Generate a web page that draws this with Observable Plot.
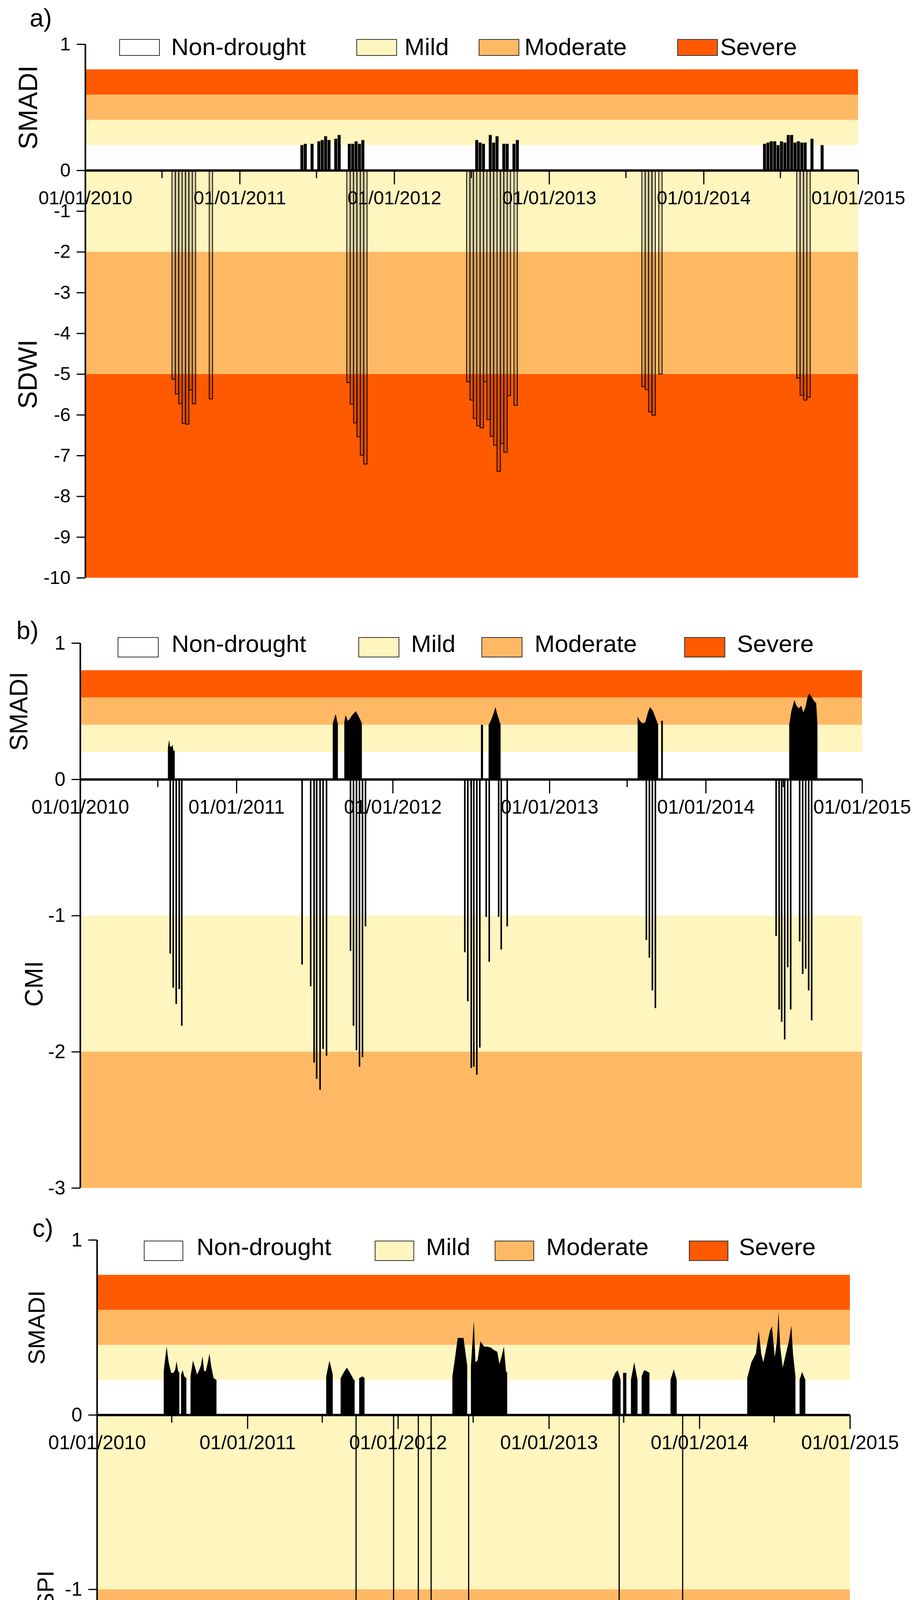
<!DOCTYPE html>
<html>
<head>
<meta charset="utf-8">
<script src="https://cdn.jsdelivr.net/npm/d3@7"></script>
<script src="https://cdn.jsdelivr.net/npm/@observablehq/plot@0.6"></script>
<style>
  body { margin: 0; background: #fff; font-family: "Liberation Sans", Arial, sans-serif; }
  .panel { position: relative; width: 2357px; }
  .panel svg { display: block; }
  .tag { position: absolute; font-size: 64px; line-height: 64px; }
  .sw { position: absolute; box-sizing: border-box; border: 2px solid #333; }
  .lg { position: absolute; font-size: 62px; line-height: 62px; white-space: nowrap; }
</style>
</head>
<body>
<div id="chart"></div>
<script>
// days are counted from 01/01/2010
const start = new Date(Date.UTC(2010, 0, 1));
const end = new Date(Date.UTC(2015, 0, 1));
const years = [2010, 2011, 2012, 2013, 2014, 2015];
const legendNames = ["Non-drought", "Mild", "Moderate", "Severe"];
const colorOf = {"Non-drought": "#ffffff", "Mild": "#fff5be", "Moderate": "#ffb964", "Severe": "#ff5a00"};

// drought classes [from, to, class]
const smadiBands = [[0.2, 0.4, "Mild"], [0.4, 0.6, "Moderate"], [0.6, 0.8, "Severe"]];
const sdwiBands = [[-2, 0, "Mild"], [-5, -2, "Moderate"], [-10, -5, "Severe"]];
const cmiBands = [[-2, -1, "Mild"], [-3, -2, "Moderate"]];
const spiBands = [[-1, 0, "Mild"], [-1.5, -1, "Moderate"], [-2, -1.5, "Severe"]];

// a) 8-day composites: [first day, values]
const smadiA = [
  [508, [0.20, 0.21, null, 0.21, null, 0.23, 0.24, 0.27, 0.24, null, 0.25, 0.28, null, null, 0.21, 0.21, 0.23, 0.21, 0.24]],
  [921, [0.24, 0.22, 0.21, null, 0.28, 0.22, 0.27, null, 0.21, 0.21, null, 0.21, 0.24]],
  [1601, [0.21, 0.22, 0.23, 0.23, 0.20, 0.23, 0.22, 0.28, 0.28, 0.22, 0.23, 0.22, 0.22, null, 0.25, null, null, 0.20]]
];
const sdwiA = [
  [205, [-5.13, -5.49, -5.73, -6.21, -6.23, -5.39, -5.73, null, null, null, null, -5.61]],
  [618, [-5.21, -5.74, -6.20, -6.54, -6.99, -7.21]],
  [901, [-5.19, -5.64, -6.09, -6.27, -6.32, -5.19, -6.12, -6.53, -6.75, -7.39, -6.71, -6.92, -5.53, null, -5.77]],
  [1315, [-5.31, -5.38, -5.93, -6.01, null, -5.00]],
  [1681, [-5.10, -5.52, -5.64, -5.57]]
];

// b) SMADI outline [day, value], CMI [day, value]
const smadiB = [
  [205, 0], [205, 0.23], [208, 0.29], [210, 0.24], [214, 0.24], [216, 0.255], [218, 0.21], [221, 0.21], [221, 0],
  [590, 0], [590, 0.41], [594, 0.45], [597, 0.48], [600, 0.43], [602, 0.41], [602, 0],
  [617, 0], [617, 0.42], [620, 0.47], [625, 0.43], [629, 0.44], [633, 0.46], [638, 0.48], [644, 0.50], [649, 0.47], [654, 0.44], [658, 0.41], [658, 0],
  [936, 0], [936, 0.40], [941, 0.40], [941, 0],
  [954, 0], [954, 0.40], [959, 0.43], [964, 0.47], [970, 0.53], [974, 0.48], [979, 0.43], [982, 0.40], [982, 0],
  [1302, 0], [1302, 0.46], [1307, 0.43], [1314, 0.41], [1320, 0.42], [1326, 0.49], [1331, 0.53], [1338, 0.50], [1344, 0.45], [1350, 0.40], [1350, 0],
  [1357, 0], [1357, 0.43], [1361, 0.43], [1361, 0],
  [1656, 0], [1656, 0.40], [1661, 0.50], [1668, 0.58], [1673, 0.54], [1678, 0.52], [1684, 0.54], [1689, 0.49], [1694, 0.53],
  [1699, 0.605], [1703, 0.63], [1709, 0.60], [1715, 0.57], [1719, 0.56], [1722, 0.40], [1722, 0]
];
const cmiB = [
  [210, -1.28], [217, -1.53], [224, -1.65], [231, -1.54], [237, -1.81],
  [518, -1.36], [538, -1.52], [546, -2.08], [552, -2.20], [560, -2.28], [567, -1.98], [575, -2.03],
  [631, -1.26], [638, -1.81], [645, -1.99], [652, -2.11], [659, -2.04], [666, -1.08],
  [898, -1.27], [905, -1.63], [913, -2.12], [919, -2.11], [926, -2.17], [933, -1.97], [948, -1.01], [955, -1.34], [977, -1.01], [983, -1.25], [997, -1.08],
  [1322, -1.18], [1329, -1.31], [1336, -1.55], [1343, -1.68],
  [1625, -1.15], [1632, -1.69], [1638, -1.78], [1645, -1.91], [1652, -1.38], [1659, -1.69],
  [1680, -1.19], [1687, -1.43], [1694, -1.39], [1701, -1.55], [1708, -1.77]
];

// c) SMADI outline [day, value], SPI [day, value]
const smadiC = [
  [162, 0], [162, 0.25], [169, 0.39], [174, 0.30], [180, 0.24], [186, 0.24], [190, 0.26], [193, 0.305], [197, 0.25], [200, 0.24], [200, 0],
  [204, 0], [204, 0.23], [208, 0.255], [212, 0.22], [217, 0.21], [217, 0],
  [227, 0], [227, 0.22], [233, 0.31], [238, 0.27], [243, 0.23], [247, 0.25], [252, 0.28], [256, 0.335], [260, 0.25], [264, 0.25],
  [269, 0.30], [273, 0.35], [277, 0.28], [283, 0.21], [290, 0.20], [290, 0],
  [556, 0], [556, 0.22], [564, 0.31], [572, 0.23], [572, 0],
  [591, 0], [591, 0.21], [598, 0.24], [606, 0.27], [614, 0.24], [623, 0.20], [625, 0.20], [625, 0],
  [636, 0], [636, 0.21], [644, 0.22], [649, 0.21], [649, 0],
  [862, 0], [862, 0.22], [867, 0.30], [875, 0.44], [889, 0.44], [898, 0.28], [898, 0],
  [907, 0], [907, 0.28], [914, 0.54], [918, 0.30], [923, 0.31], [930, 0.42], [939, 0.39], [946, 0.39], [955, 0.385],
  [963, 0.37], [971, 0.36], [976, 0.29], [981, 0.33], [987, 0.39], [992, 0.25], [995, 0.24], [995, 0],
  [1250, 0], [1250, 0.20], [1257, 0.24], [1263, 0.255], [1270, 0.20], [1270, 0],
  [1276, 0], [1276, 0.24], [1284, 0.24], [1284, 0],
  [1295, 0], [1295, 0.20], [1303, 0.30], [1311, 0.20], [1311, 0],
  [1321, 0], [1321, 0.22], [1327, 0.255], [1333, 0.25], [1340, 0.24], [1340, 0],
  [1391, 0], [1391, 0.20], [1399, 0.26], [1406, 0.20], [1406, 0],
  [1577, 0], [1577, 0.21], [1587, 0.30], [1598, 0.35], [1605, 0.48], [1611, 0.35], [1616, 0.30], [1624, 0.39], [1632, 0.48],
  [1637, 0.505], [1644, 0.33], [1649, 0.42], [1653, 0.59], [1657, 0.39], [1663, 0.27], [1669, 0.33], [1678, 0.42], [1684, 0.51],
  [1688, 0.35], [1694, 0.22], [1694, 0],
  [1704, 0], [1704, 0.20], [1710, 0.245], [1718, 0.20], [1718, 0]
];
const spiC = [[628, -1.40], [719, -1.60], [779, -1.50], [810, -1.60], [901, -1.40], [1266, -1.40], [1420, -1.50]];

const day = n => d3.utcDay.offset(start, n);
const yearTicks = years.map(y => new Date(Date.UTC(y, 0, 1)));
const midTicks = years.slice(0, -1).map(y => new Date(Date.UTC(y, 6, 1)));
const composites = clusters => clusters.flatMap(([first, vals]) =>
  vals.map((v, i) => [first + 8 * i, v]).filter(d => d[1] != null));

const areaMarks = pts => [
  Plot.area(pts, {x1: d => day(d[0]), y1: 0, y2: d => d[1], fill: "black", curve: "linear"})
];
const lineMarks = (pts, w) => [
  Plot.ruleX(pts, {x: d => day(d[0]), y1: 0, y2: d => d[1], stroke: "black", strokeWidth: w})
];

const panels = [
  {
    tag: "a)", tagPos: [76, 14], height: 1550, marginTop: 113, zero: 436, marginBottom: 71, marginLeft: 218, marginRight: 161,
    bands: sdwiBands, yTicks: [-10, -9, -8, -7, -6, -5, -4, -3, -2, -1, 0, 1], font: 48,
    labels: ["SMADI", "SDWI"], titleX: [73, 72], titleSize: 68,
    legend: {top: 100, h: 43, w: 104, sw: [305, 912, 1225, 1733], tx: [438, 1035, 1342, 1843], base: 141},
    series: () => [
      Plot.rect(composites(smadiA), {x1: d => day(d[0]), x2: d => day(d[0] + 8), y1: 0, y2: d => d[1], fill: "black", insetLeft: 0.5, insetRight: 0.5}),
      Plot.rect(composites(sdwiA), {x1: d => day(d[0]), x2: d => day(d[0] + 8), y1: 0, y2: d => d[1], fill: "black", fillOpacity: 0.15, stroke: "black", strokeWidth: 2})
    ]
  },
  {
    tag: "b)", tagPos: [42, 32], height: 1550, marginTop: 96, zero: 445, marginBottom: 59, marginLeft: 205, marginRight: 151,
    bands: cmiBands, yTicks: [-3, -2, -1, 0, 1], font: 50,
    labels: ["SMADI", "CMI"], titleX: [49, 88], titleSize: 64,
    legend: {top: 81, h: 52, w: 105, sw: [301, 917, 1232, 1751], tx: [439, 1052, 1368, 1886], base: 119},
    series: () => [...areaMarks(smadiB), ...lineMarks(cmiB, 4)]
  },
  {
    tag: "c)", tagPos: [83, 12], height: 1457, marginTop: 74, zero: 522, marginBottom: 42, marginLeft: 248, marginRight: 182,
    bands: spiBands, yTicks: [-2, -1, 0, 1], font: 50,
    labels: ["SMADI", "SPI"], titleX: [94, 117], titleSize: 60,
    legend: {top: 76, h: 52, w: 101, sw: [368, 959, 1266, 1763], tx: [503, 1090, 1398, 1891], base: 113},
    series: () => [...areaMarks(smadiC), ...lineMarks(spiC, 3)]
  }
];

const root = document.getElementById("chart");

panels.forEach(p => {
  const bottom = p.height - p.marginBottom;
  const yMin = d3.min(p.bands, b => b[0]);
  const axisShift = p.zero - bottom;

  const chart = Plot.plot({
    width: 2357,
    height: p.height,
    marginTop: p.marginTop,
    marginBottom: p.marginBottom,
    marginLeft: p.marginLeft,
    marginRight: p.marginRight,
    x: {type: "utc", domain: [start, end]},
    y: {type: "linear", domain: [yMin, 0, 1], range: [bottom, p.zero, p.marginTop]},
    style: {background: "#ffffff", color: "#000000", fontFamily: "'Liberation Sans', Arial, sans-serif", overflow: "visible"},
    marks: [
      Plot.rect(smadiBands, {x1: start, x2: end, y1: b => b[0], y2: b => b[1], fill: b => colorOf[b[2]]}),
      Plot.rect(p.bands, {x1: start, x2: end, y1: b => b[0], y2: b => b[1], fill: b => colorOf[b[2]]}),
      ...p.series(),
      Plot.ruleY([0], {stroke: "black", strokeWidth: 6}),
      Plot.ruleX([start], {y1: yMin, y2: 1, stroke: "black", strokeWidth: 4}),
      Plot.axisY({ticks: p.yTicks, tickSize: 22, tickPadding: 16, tickFormat: d => String(d), fontSize: p.font, strokeWidth: 3}),
      Plot.axisX({ticks: yearTicks, anchor: "bottom", dy: axisShift, tickSize: 36, tickPadding: 16,
        tickFormat: d3.utcFormat("%d/%m/%Y"), fontSize: p.font, strokeWidth: 3}),
      Plot.axisX({ticks: midTicks, anchor: "bottom", dy: axisShift, tickSize: 20, tickFormat: () => "", strokeWidth: 3}),
      Plot.text([p.labels[0]], {frameAnchor: "left", y: () => 0.5, text: d => d, rotate: -90, textAnchor: "middle",
        dx: p.titleX[0] - p.marginLeft, fontSize: p.titleSize}),
      Plot.text([p.labels[1]], {frameAnchor: "left", y: () => yMin / 2, text: d => d, rotate: -90, textAnchor: "middle",
        dx: p.titleX[1] - p.marginLeft, fontSize: p.titleSize})
    ]
  });

  const div = document.createElement("div");
  div.className = "panel";
  div.style.height = p.height + "px";
  div.appendChild(chart);

  const tag = document.createElement("div");
  tag.className = "tag";
  tag.textContent = p.tag;
  tag.style.left = p.tagPos[0] + "px";
  tag.style.top = p.tagPos[1] + "px";
  div.appendChild(tag);

  legendNames.forEach((name, i) => {
    const sw = document.createElement("div");
    sw.className = "sw";
    sw.style.left = p.legend.sw[i] + "px";
    sw.style.top = p.legend.top + "px";
    sw.style.width = p.legend.w + "px";
    sw.style.height = p.legend.h + "px";
    sw.style.background = colorOf[name];
    div.appendChild(sw);
    const tx = document.createElement("div");
    tx.className = "lg";
    tx.textContent = name;
    tx.style.left = p.legend.tx[i] + "px";
    tx.style.top = (p.legend.base - 52) + "px";
    div.appendChild(tx);
  });

  root.appendChild(div);
});
</script>
</body>
</html>
